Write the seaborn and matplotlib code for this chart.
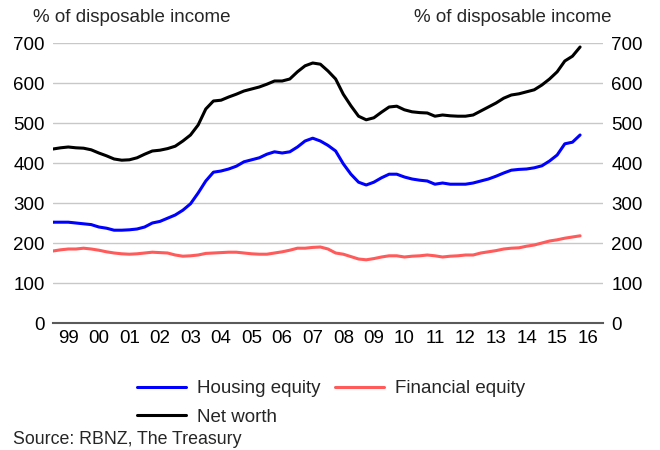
import numpy as np
import pandas as pd
import matplotlib
matplotlib.use("Agg")
import matplotlib.pyplot as plt
import seaborn as sns

# Quarterly data, 1999Q1 .. 2016Q2 (% of disposable income)
start_year = 1999
n_quarters = 70

housing_equity = [252, 252, 252, 250, 248, 246, 240, 237, 232, 232,
                  233, 235, 240, 250, 254, 262, 270, 282, 298, 325,
                  355, 377, 380, 385, 392, 403, 408, 413, 422, 428,
                  425, 428, 440, 455, 462, 455, 444, 430, 398, 372,
                  352, 345, 352, 363, 372, 372, 365, 360, 357, 355,
                  347, 350, 347, 347, 347, 350, 355, 360, 367, 375,
                  382, 384, 385, 388, 393, 405, 420, 448, 452, 470]

financial_equity = [180, 183, 185, 185, 187, 185, 182, 178, 175, 173,
                    172, 173, 175, 177, 176, 175, 170, 167, 168, 170,
                    174, 175, 176, 177, 177, 175, 173, 172, 172, 175,
                    178, 182, 187, 187, 189, 190, 185, 175, 172, 166,
                    160, 158, 161, 165, 168, 168, 165, 167, 168, 170,
                    168, 165, 167, 168, 170, 170, 175, 178, 181, 185,
                    187, 188, 192, 195, 200, 205, 208, 212, 215, 218]

net_worth = [435, 438, 440, 438, 437, 433, 425, 418, 410, 407,
             408, 413, 422, 430, 432, 436, 442, 455, 470, 495,
             535, 555, 557, 565, 572, 580, 585, 590, 597, 605,
             605, 610, 628, 643, 650, 647, 630, 610, 572, 543,
             517, 508, 513, 527, 540, 542, 533, 528, 526, 525,
             517, 520, 518, 517, 517, 520, 530, 540, 550, 562,
             570, 573, 578, 583, 595, 610, 628, 655, 667, 690]

series_names = ["Housing equity", "Financial equity", "Net worth"]
series_colors = ["#0000FF", "#FF5B5B", "#000000"]
year_labels = ["99", "00", "01", "02", "03", "04", "05", "06", "07",
               "08", "09", "10", "11", "12", "13", "14", "15", "16"]
y_ticks = [0, 100, 200, 300, 400, 500, 600, 700]

t = start_year + np.arange(n_quarters) / 4.0
df = pd.concat([
    pd.DataFrame({"t": t, "value": housing_equity, "series": series_names[0]}),
    pd.DataFrame({"t": t, "value": financial_equity, "series": series_names[1]}),
    pd.DataFrame({"t": t, "value": net_worth, "series": series_names[2]}),
])

sns.set_theme(style="white")
plt.rcParams["font.family"] = ["Liberation Sans", "DejaVu Sans"]
FS = 13.5

fig = plt.figure(figsize=(6.6, 4.5), dpi=100)
ax = fig.add_axes([53 / 660, 1 - 323 / 450, 550 / 660, 280 / 450])

sns.lineplot(data=df, x="t", y="value", hue="series", hue_order=series_names,
             palette=series_colors, linewidth=2.2, ax=ax, legend=False)

ax.set_xlim(start_year, start_year + 18)
ax.set_ylim(0, 700)
ax.set_yticks(y_ticks)
ax.set_xticks(start_year + 0.5 + np.arange(len(year_labels)))
ax.set_xticklabels(year_labels)
ax.set_xlabel("")
ax.set_ylabel("")
ax.grid(axis="y", color="#C8C8C8", linewidth=1.0)
ax.set_axisbelow(True)
for s in ["left", "right", "top"]:
    ax.spines[s].set_visible(False)
ax.spines["bottom"].set_color("#5A5A5A")
ax.spines["bottom"].set_linewidth(1.5)
ax.tick_params(axis="both", length=0, labelsize=FS, colors="black")
ax.tick_params(axis="y", labelright=True, pad=6)
ax.tick_params(axis="x", pad=5)

fig.text(33 / 660, 1 - 17 / 450, "% of disposable income", fontsize=FS,
         ha="left", va="center")
fig.text(612 / 660, 1 - 17 / 450, "% of disposable income", fontsize=FS,
         ha="right", va="center")

handles = [plt.Line2D([], [], color=c, linewidth=2.2) for c in series_colors]
order = [0, 2, 1]
fig.legend([handles[i] for i in order], [series_names[i] for i in order],
           loc="upper left", bbox_to_anchor=(137 / 660, 1 - 380 / 450),
           ncol=2, frameon=False, fontsize=FS, handlelength=2.6,
           handletextpad=0.58, columnspacing=0.8, labelspacing=0.62,
           borderaxespad=0, borderpad=0)

fig.text(13 / 660, 1 - 440 / 450, "Source: RBNZ, The Treasury", fontsize=12.8,
         ha="left", va="center")

fig.savefig("out.png", dpi=100)
